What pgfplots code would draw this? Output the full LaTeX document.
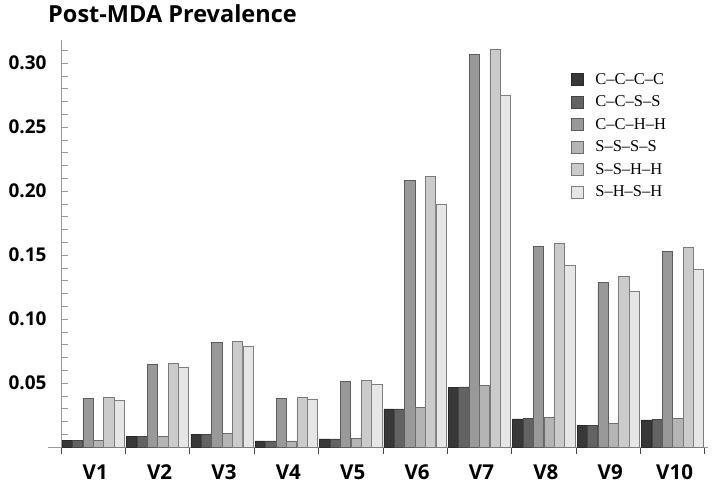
\documentclass[border=0pt]{standalone}
\usepackage{fontspec}
\setmainfont{Liberation Serif}
\newfontfamily\labfont{Open Sans}
\usepackage{pgfplots}
\pgfplotsset{compat=1.18}
\definecolor{c1}{HTML}{383838}
\definecolor{c2}{HTML}{636363}
\definecolor{c3}{HTML}{999999}
\definecolor{c4}{HTML}{B4B4B4}
\definecolor{c5}{HTML}{CBCBCB}
\definecolor{c6}{HTML}{E6E6E6}
\definecolor{axgray}{HTML}{9A9A9A}
\begin{document}
\begin{tikzpicture}
\begin{axis}[
  at={(0,0)}, anchor=south west,
  scale only axis, width=647pt, height=407pt,
  xmin=-0.5, xmax=9.55, ymin=0, ymax=0.318,
  clip=false,
  ybar=0.2pt, bar width=10.2pt,
  axis lines*=left,
  x axis line style={axgray, line width=0.6pt, shorten <=-13pt},
  y axis line style={axgray, line width=0.6pt},
  xtick={0,...,9},
  xticklabels={V1,V2,V3,V4,V5,V6,V7,V8,V9,V10},
  major x tick style={draw=none},
  minor xtick={-0.5,0.5,...,9.5},
  minor x tick style={draw=black!70, line width=0.6pt},
  xtick align=outside,
  minor tick length=7pt,
  ytick={0.05,0.10,0.15,0.20,0.25,0.30},
  minor ytick={0.01,0.02,...,0.31},
  y tick style={axgray, line width=0.5pt},
  ytick align=inside,
  major tick length=4.5pt,
  yticklabel style={/pgf/number format/.cd, fixed, fixed zerofill, precision=2, /tikz/.cd, font=\labfont\bfseries\fontsize{19}{22}\selectfont, xshift=-11pt},
  xticklabel style={font=\labfont\bfseries\fontsize{20.5}{24}\selectfont, inner ysep=0pt, yshift=-13pt, xshift=2pt},
  /pgf/number format/assume math mode=true,
  legend style={at={(rel axis cs:0.788,0.923)}, anchor=north west, draw=none, fill=none, font=\fontsize{16.5}{19}\selectfont, row sep=6pt, inner sep=0pt},
  legend cell align=left,
  legend image code/.code={\draw[#1, line width=0.6pt] (0pt,-6pt) rectangle (12pt,6pt); \path[draw=none, fill=none] (0pt,0pt) -- (22pt,0pt);},
  every axis plot/.append style={line width=0.6pt},
]
\addplot[fill=c1, draw=c1!75!black] coordinates {(0,0.0050) (1,0.0080) (2,0.0100) (3,0.0047) (4,0.0063) (5,0.0298) (6,0.0463) (7,0.0219) (8,0.0170) (9,0.0211)};
\addplot[fill=c2, draw=c2!70!black] coordinates {(0,0.0050) (1,0.0080) (2,0.0100) (3,0.0047) (4,0.0063) (5,0.0298) (6,0.0469) (7,0.0224) (8,0.0170) (9,0.0216)};
\addplot[fill=c3, draw=c3!60!black] coordinates {(0,0.0380) (1,0.0646) (2,0.0815) (3,0.0380) (4,0.0513) (5,0.2086) (6,0.3070) (7,0.1568) (8,0.1289) (9,0.1531)};
\addplot[fill=c4, draw=c4!60!black] coordinates {(0,0.0050) (1,0.0083) (2,0.0104) (3,0.0047) (4,0.0068) (5,0.0307) (6,0.0482) (7,0.0232) (8,0.0185) (9,0.0221)};
\addplot[fill=c5, draw=c5!60!black] coordinates {(0,0.0388) (1,0.0656) (2,0.0828) (3,0.0388) (4,0.0521) (5,0.2115) (6,0.3110) (7,0.1590) (8,0.1334) (9,0.1557)};
\addplot[fill=c6, draw=c6!55!black] coordinates {(0,0.0362) (1,0.0623) (2,0.0784) (3,0.0372) (4,0.0490) (5,0.1900) (6,0.2748) (7,0.1422) (8,0.1213) (9,0.1388)};
\legend{C\textendash C\textendash C\textendash C, C\textendash C\textendash S\textendash S, C\textendash C\textendash H\textendash H, S\textendash S\textendash S\textendash S, S\textendash S\textendash H\textendash H, S\textendash H\textendash S\textendash H}
\node[anchor=base west, inner sep=0pt, xshift=-13pt, yshift=17.5pt, font=\labfont\bfseries\fontsize{23.5}{28}\selectfont] at (rel axis cs:0,1) {Post-MDA Prevalence};
\end{axis}
\pgfresetboundingbox
\path[use as bounding box] (-61pt,-37pt) rectangle (662pt,447pt);
\end{tikzpicture}
\end{document}
